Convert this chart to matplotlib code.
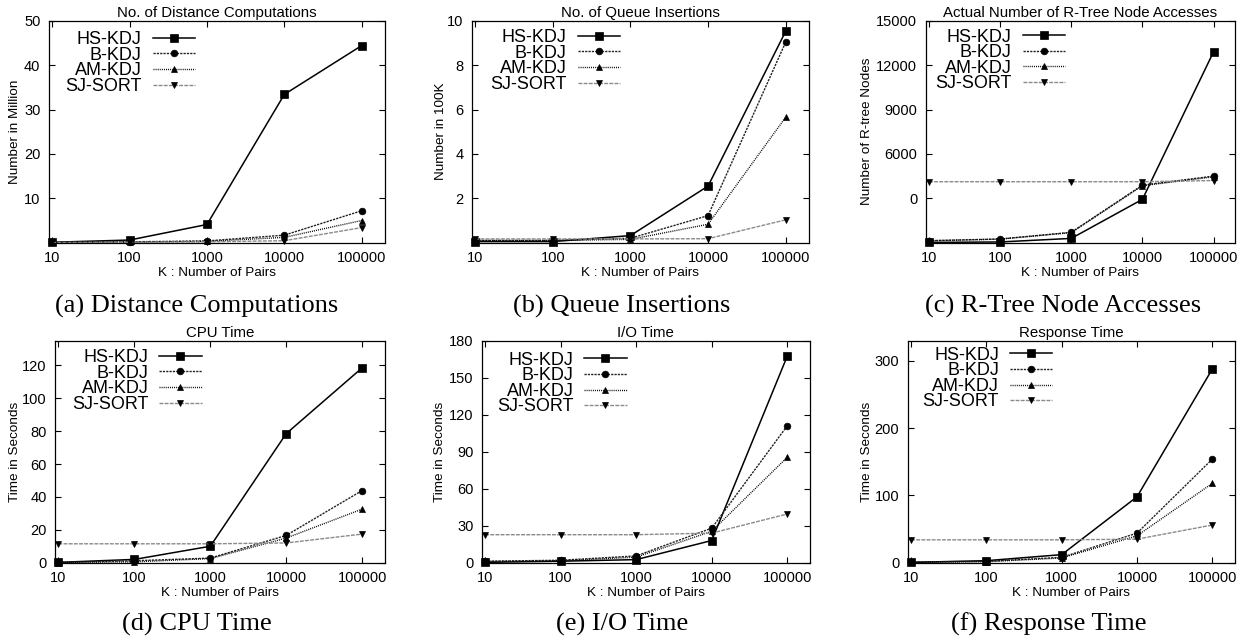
import matplotlib
matplotlib.use("Agg")
import matplotlib.pyplot as plt
from matplotlib.ticker import FixedLocator, FixedFormatter, NullLocator

plt.rcParams['font.family'] = ['Liberation Sans', 'DejaVu Sans']

W, H = 1255, 642

# ---------------- data ----------------
k_values = [10, 100, 1000, 10000, 100000]
k_labels = ['10', '100', '1000', '10000', '100000']
series_names = ['HS-KDJ', 'B-KDJ', 'AM-KDJ', 'SJ-SORT']

dist_hs = [0.1, 0.6, 4.1, 33.4, 44.4]
dist_b = [0.1, 0.2, 0.4, 1.7, 7.2]
dist_am = [0.1, 0.15, 0.3, 1.2, 5.0]
dist_sj = [0.05, 0.1, 0.2, 0.45, 3.4]

queue_hs = [0.05, 0.05, 0.32, 2.55, 9.52]
queue_b = [0.1, 0.1, 0.2, 1.22, 9.03]
queue_am = [0.1, 0.1, 0.15, 0.83, 5.65]
queue_sj = [0.17, 0.17, 0.17, 0.18, 1.03]

node_hs = [20, 50, 290, 2930, 12900]
node_b = [135, 250, 700, 3890, 4500]
node_am = [130, 240, 680, 3850, 4450]
node_sj = [4120, 4120, 4120, 4120, 4200]

cpu_hs = [0.2, 2.0, 10.0, 78.5, 118.5]
cpu_b = [0.2, 1.2, 2.8, 16.6, 43.9]
cpu_am = [0.1, 0.5, 2.5, 15.0, 32.6]
cpu_sj = [11.5, 11.5, 11.5, 12.0, 17.4]

io_hs = [0.3, 1.2, 2.5, 18.0, 167.5]
io_b = [1.2, 2.0, 5.5, 28.0, 111.0]
io_am = [1.0, 1.5, 4.5, 25.5, 85.5]
io_sj = [22.7, 22.7, 22.7, 24.0, 39.5]

resp_hs = [0.5, 3.0, 12.0, 98.0, 288.0]
resp_b = [1.0, 2.0, 8.0, 44.0, 154.0]
resp_am = [0.5, 1.5, 7.0, 40.0, 118.0]
resp_sj = [34.0, 34.0, 34.0, 35.0, 56.0]

titles = ['No. of Distance Computations', 'No. of Queue Insertions',
          'Actual Number of R-Tree Node Accesses', 'CPU Time', 'I/O Time',
          'Response Time']
ylabels = ['Number in Million', 'Number in 100K', 'Number of R-tree Nodes',
           'Time in Seconds', 'Time in Seconds', 'Time in Seconds']
captions = ['(a) Distance Computations', '(b) Queue Insertions',
            '(c) R-Tree Node Accesses', '(d) CPU Time', '(e) I/O Time',
            '(f) Response Time']

ytick_values = [[10, 20, 30, 40, 50], [2, 4, 6, 8, 10],
                [3000, 6000, 9000, 12000, 15000],
                [0, 20, 40, 60, 80, 100, 120], [0, 30, 60, 90, 120, 150, 180],
                [0, 100, 200, 300]]
ytick_labels = [['10', '20', '30', '40', '50'], ['2', '4', '6', '8', '10'],
                ['0', '6000', '9000', '12000', '15000'],
                ['0', '20', '40', '60', '80', '100', '120'],
                ['0', '30', '60', '90', '120', '150', '180'],
                ['0', '100', '200', '300']]
y_limits = [(0, 50), (0, 10), (0, 15000), (0, 135), (0, 180), (0, 330)]

panel_data = [
    [dist_hs, dist_b, dist_am, dist_sj],
    [queue_hs, queue_b, queue_am, queue_sj],
    [node_hs, node_b, node_am, node_sj],
    [cpu_hs, cpu_b, cpu_am, cpu_sj],
    [io_hs, io_b, io_am, io_sj],
    [resp_hs, resp_b, resp_am, resp_sj],
]

# ---------------- layout (pixels) ----------------
axes_px = [  # left, right, top, bottom
    (48.7, 385, 20.7, 242.7),
    (471.7, 809, 20.7, 242.7),
    (925.7, 1235, 20.7, 242.7),
    (55, 385, 340.7, 562.7),
    (481.7, 810, 340.7, 562.7),
    (907.7, 1235, 340.7, 562.7),
]
ylabel_x_px = [15, 440.7, 866.7, 15, 440, 866.7]
legend_px = [  # right end of sample line, first row centre
    (195, 37.7), (620, 35.7), (1065, 35.0),
    (201.7, 355.7), (626.7, 358.3), (1052.3, 353.3),
]
caption_px = [(196.7, 306.7), (621.7, 306.7), (1063, 306.7),
              (196.7, 624), (621.7, 624), (1048.3, 624)]

styles = [
    dict(color='black', lw=1.1, ls='-', marker='s', ms=5.2),
    dict(color='#222222', lw=1.0, dashes=(1.6, 0.8), marker='o', ms=4.8),
    dict(color='black', lw=1.0, dashes=(0.7, 0.8), marker='^', ms=4.2),
    dict(color='#8a8a8a', lw=1.0, dashes=(2.8, 0.9), marker='v', ms=4.2),
]

fig = plt.figure(figsize=(W / 100, H / 100), dpi=100)

for i in range(6):
    l, r, t, b = axes_px[i]
    ax = fig.add_axes([l / W, 1 - b / H, (r - l) / W, (b - t) / H])
    for name, vals, st in zip(series_names, panel_data[i], styles):
        st = dict(st)
        ax.plot(k_values, vals, label=name, clip_on=False,
                markeredgecolor='black', markerfacecolor='black',
                markeredgewidth=0.5, **st)
    ax.set_xscale('log')
    ax.set_xlim(9, 2.0e5)
    ax.set_ylim(*y_limits[i])
    ax.xaxis.set_major_locator(FixedLocator(k_values))
    ax.xaxis.set_major_formatter(FixedFormatter(k_labels))
    ax.xaxis.set_minor_locator(NullLocator())
    ax.yaxis.set_major_locator(FixedLocator(ytick_values[i]))
    ax.yaxis.set_major_formatter(FixedFormatter(ytick_labels[i]))
    ax.yaxis.set_minor_locator(NullLocator())
    ax.tick_params(direction='in', length=4, width=0.8, top=True, right=True,
                   labelsize=10.5, pad=6, colors='black')
    for sp in ax.spines.values():
        sp.set_linewidth(0.9)
    ax.set_title(titles[i], fontsize=10.8, pad=3)
    ax.set_xlabel('K : Number of Pairs', fontsize=9.7, va='center')
    ax.xaxis.set_label_coords(0.5, -30.3 / (b - t))
    ax.set_ylabel(ylabels[i], fontsize=9.7, va='center')
    ax.yaxis.set_label_coords((ylabel_x_px[i] - l) / (r - l), 0.5)

    lx, ly = legend_px[i]
    ax.legend(loc='upper right', bbox_to_anchor=(lx / W, 1 - (ly - 6.5) / H),
              bbox_transform=fig.transFigure, frameon=False, markerfirst=False,
              fontsize=13, handlelength=2.35, handletextpad=0.6,
              labelspacing=-0.08, borderpad=0, borderaxespad=0)

    cx, cy = caption_px[i]
    fig.text(cx / W, 1 - cy / H, captions[i], ha='center', va='center',
             fontsize=19, family=['Liberation Serif', 'DejaVu Serif'])

fig.savefig('out.png', dpi=100)
